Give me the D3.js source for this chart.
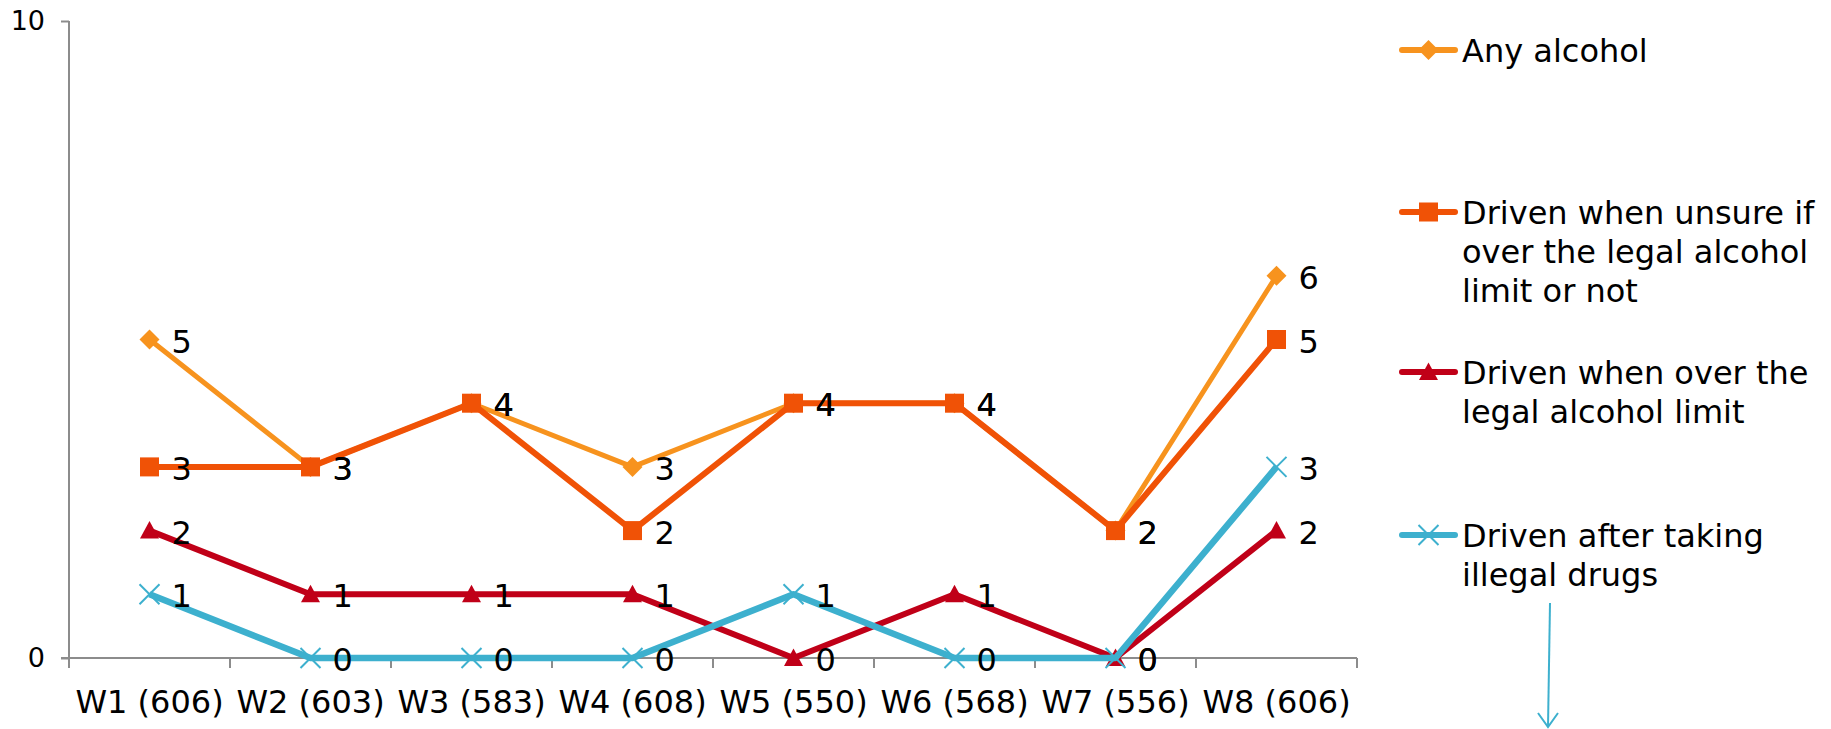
<!DOCTYPE html>
<html>
<head>
<meta charset="utf-8">
<script src="https://cdn.jsdelivr.net/npm/d3@7"></script>
<style>
  html, body { margin: 0; padding: 0; background: #fff; }
  svg { display: block; font-family: "DejaVu Sans", Verdana, sans-serif; }
</style>
</head>
<body>
<svg id="chart" width="1831" height="729"></svg>
<script>
// Survey waves (sample size in brackets)
const waves = ["W1 (606)", "W2 (603)", "W3 (583)", "W4 (608)", "W5 (550)", "W6 (568)", "W7 (556)", "W8 (606)"];

// Percentage of drivers per wave
const anyAlcohol   = [5, 3, 4, 3, 4, 4, 2, 6];
const unsureLimit  = [3, 3, 4, 2, 4, 4, 2, 5];
const overLimit    = [2, 1, 1, 1, 0, 1, 0, 2];
const illegalDrugs = [1, 0, 0, 0, 1, 0, 0, 3];

const yTicks = [0, 10];

const seriesNames = [
  ["Any alcohol"],
  ["Driven when unsure if", "over the legal alcohol", "limit or not"],
  ["Driven when over the", "legal alcohol limit"],
  ["Driven after taking", "illegal drugs"]
];

const series = [
  { name: seriesNames[0], values: anyAlcohol,   color: "#F7931E", marker: "diamond",  width: 5 },
  { name: seriesNames[1], values: unsureLimit,  color: "#F05206", marker: "square",   width: 6 },
  { name: seriesNames[2], values: overLimit,    color: "#C00018", marker: "triangle", width: 6 },
  { name: seriesNames[3], values: illegalDrugs, color: "#3DB0CE", marker: "cross",    width: 6.5 }
];

const svg = d3.select("#chart");
const axisColor = "#8c8c8c";

const x = d3.scaleBand().domain(waves).range([69, 1357]);
const y = d3.scaleLinear().domain([0, 10]).range([658, 21]);
const cx = d => x(d) + x.bandwidth() / 2;

// Axes
const yAxis = svg.append("g").attr("transform", "translate(69,0)")
  .call(d3.axisLeft(y).tickValues(yTicks).tickSize(8).tickPadding(16).tickFormat(d3.format("d")));
yAxis.select(".domain").attr("stroke", axisColor).attr("stroke-width", 2).attr("d", `M0,${y(10)}V${y(0)}`);
yAxis.selectAll(".tick line").attr("stroke", axisColor).attr("stroke-width", 2);
yAxis.selectAll(".tick text").attr("font-size", 27).attr("fill", "#000")
  .attr("font-family", "DejaVu Sans, Verdana, sans-serif");

const xAxis = svg.append("g").attr("transform", `translate(0,${y(0)})`)
  .call(d3.axisBottom(x).tickSize(0).tickPadding(0));
xAxis.select(".domain").attr("stroke", axisColor).attr("stroke-width", 2).attr("d", "M61,0H1357");
xAxis.selectAll(".tick text").attr("font-size", 32).attr("fill", "#000")
  .attr("font-family", "DejaVu Sans, Verdana, sans-serif")
  .attr("y", 55).attr("dy", 0);
// tick marks between categories
const bounds = waves.map(w => x(w)).concat([x.range()[1]]);
xAxis.selectAll("line.sep").data(bounds).join("line").attr("class", "sep")
  .attr("x1", d => d).attr("x2", d => d).attr("y1", 0).attr("y2", 10)
  .attr("stroke", axisColor).attr("stroke-width", 2);

// Marker shapes
function drawMarker(g, type, color, px, py, scale = 1) {
  if (type === "diamond") {
    const s = 10 * scale;
    g.append("path").attr("d", `M${px},${py - s}L${px + s},${py}L${px},${py + s}L${px - s},${py}Z`).attr("fill", color);
  } else if (type === "square") {
    const s = 9.5 * scale;
    g.append("rect").attr("x", px - s).attr("y", py - s).attr("width", 2 * s).attr("height", 2 * s).attr("fill", color);
  } else if (type === "triangle") {
    const s = 9.5 * scale;
    g.append("path").attr("d", `M${px},${py - s}L${px + s},${py + 8 * scale}L${px - s},${py + 8 * scale}Z`).attr("fill", color);
  } else if (type === "cross") {
    const s = 10 * scale;
    g.append("path").attr("d", `M${px - s},${py - s}L${px + s},${py + s}M${px - s},${py + s}L${px + s},${py - s}`)
      .attr("stroke", color).attr("stroke-width", 2).attr("fill", "none");
  }
}

const line = d3.line().x((d, i) => cx(waves[i])).y(d => y(d));
const plot = svg.append("g");

series.forEach(s => {
  const g = plot.append("g");
  g.append("path").datum(s.values).attr("d", line)
    .attr("fill", "none").attr("stroke", s.color).attr("stroke-width", s.width)
    .attr("stroke-linejoin", "round");
  s.values.forEach((v, i) => drawMarker(g, s.marker, s.color, cx(waves[i]), y(v)));
});

// Value labels
const labels = svg.append("g").attr("font-size", 32).attr("fill", "#000");
series.forEach(s => {
  s.values.forEach((v, i) => {
    labels.append("text").attr("x", cx(waves[i]) + 22).attr("y", y(v) + 13).text(v);
  });
});

// Legend
const legendY = [50, 212, 372, 535];
const legend = svg.append("g");
series.forEach((s, k) => {
  const ly = legendY[k];
  legend.append("line").attr("x1", 1402).attr("x2", 1455).attr("y1", ly).attr("y2", ly)
    .attr("stroke", s.color).attr("stroke-width", 6).attr("stroke-linecap", "round");
  drawMarker(legend, s.marker, s.color, 1428.5, ly, 1);
  const t = legend.append("text").attr("font-size", 32).attr("fill", "#000");
  s.name.forEach((ln, j) => {
    t.append("tspan").attr("x", 1462).attr("y", ly + 12 + j * 39).text(ln);
  });
});

// Pointer arrow below the last legend entry
const arrowColor = "#3DB0CE";
svg.append("path").attr("d", "M1550,603L1548,727").attr("stroke", arrowColor).attr("stroke-width", 2).attr("fill", "none");
svg.append("path").attr("d", "M1538,713L1548,727L1558,713").attr("stroke", arrowColor).attr("stroke-width", 2).attr("fill", "none");
</script>
</body>
</html>
